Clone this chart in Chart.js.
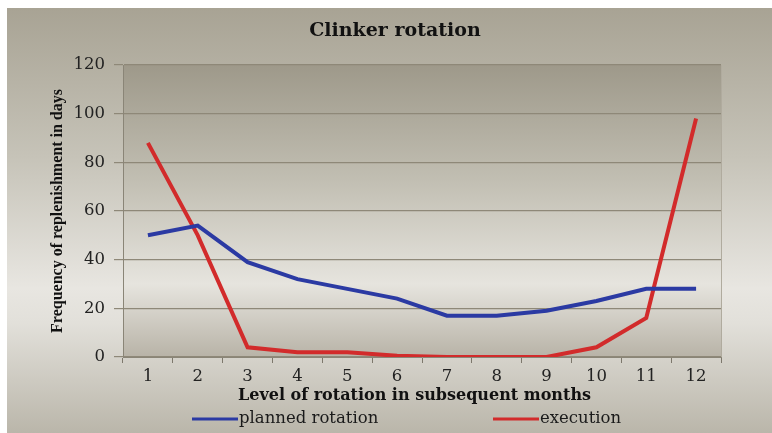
<!DOCTYPE html>
<html>
<head>
<meta charset="utf-8">
<script src="https://cdn.jsdelivr.net/npm/chart.js@4"></script>
<style>
  html, body { margin: 0; padding: 0; background: #fff; }
  #wrap { width: 772px; height: 433px; }
</style>
</head>
<body>
<div id="wrap"><canvas id="myChart"></canvas></div>
<script>
const months = ["1", "2", "3", "4", "5", "6", "7", "8", "9", "10", "11", "12"]
const planned = [50, 54, 39, 32, 28, 24, 17, 17, 19, 23, 28, 28]
const execution = [88, 50, 4, 2, 2, 0.5, 0, 0, 0, 4, 16, 98]

const chartTitle = "Clinker rotation"
const xTitle = "Level of rotation in subsequent months"
const yTitle = "Frequency of replenishment in days"

const wide = "'DejaVu Serif', serif"
const narrow = "'Liberation Serif', 'Times New Roman', serif"

// the titles sit a little off centre in the original
const shift = {}
shift[chartTitle] = 14.5
shift[xTitle] = -7.5

const nudge = {
    id: 'nudge',
    install(chart) {
        const ctx = chart.ctx
        const orig = ctx.fillText.bind(ctx)
        ctx.fillText = function (t, x, y, mw) {
            const dx = shift[t]
            if (dx) return orig(t, x + dx, y)
            return mw === undefined ? orig(t, x, y) : orig(t, x, y, mw)
        }
    }
}

// grey/white gradient frame like the office chart
const background = {
    id: 'background',
    beforeDraw(chart) {
        const ctx = chart.ctx
        const a = chart.chartArea
        ctx.save()
        ctx.fillStyle = '#ffffff'
        ctx.fillRect(0, 0, chart.width, chart.height)

        let g = ctx.createLinearGradient(0, 8, 0, chart.height)
        g.addColorStop(0, '#a8a394')
        g.addColorStop(0.35, '#c6c3b8')
        g.addColorStop(0.66, '#e8e6e1')
        g.addColorStop(0.74, '#e2e0da')
        g.addColorStop(1, '#bab6aa')
        ctx.fillStyle = g
        ctx.fillRect(7, 8, chart.width - 7, chart.height - 8)

        g = ctx.createLinearGradient(0, a.top, 0, a.bottom)
        g.addColorStop(0, '#9e998a')
        g.addColorStop(0.4, '#c2bfb3')
        g.addColorStop(0.75, '#e6e4de')
        g.addColorStop(1, '#b8b3a7')
        ctx.fillStyle = g
        ctx.fillRect(a.left, a.top, a.right - a.left, a.bottom - a.top)
        ctx.strokeStyle = '#b0ab9e'
        ctx.lineWidth = 1
        ctx.beginPath()
        ctx.moveTo(a.right + 0.5, a.top)
        ctx.lineTo(a.right + 0.5, a.bottom)
        ctx.stroke()
        ctx.restore()
    }
}

// legend drawn under the axis title
const bottomLegend = {
    id: 'bottomLegend',
    afterDraw(chart) {
        const ctx = chart.ctx
        const ds = chart.data.datasets
        const xs = [192, 493]
        const y = 419
        ctx.save()
        ctx.font = "16.5px " + wide
        ctx.fillStyle = '#1a1a1a'
        ctx.textBaseline = 'middle'
        ds.forEach((d, i) => {
            ctx.strokeStyle = d.borderColor
            ctx.lineWidth = 3
            ctx.beginPath()
            ctx.moveTo(xs[i], y)
            ctx.lineTo(xs[i] + 46, y)
            ctx.stroke()
            ctx.fillText(d.label, xs[i] + 47, y)
        })
        ctx.restore()
    }
}

const data = {
    labels: months,
    datasets: [{
        label: "planned rotation",
        data: planned,
        borderColor: '#2b3aa3',
        borderWidth: 4
    }, {
        label: "execution",
        data: execution,
        borderColor: '#d22b2b',
        borderWidth: 4
    }]
}

const config = {
    type: 'line',
    data: data,
    plugins: [nudge, background, bottomLegend],
    options: {
        responsive: true,
        maintainAspectRatio: false,
        animation: false,
        layout: { padding: { left: 40, right: 51, top: 8, bottom: 24 } },
        elements: { point: { radius: 0 }, line: { tension: 0 } },
        plugins: {
            legend: { display: false },
            tooltip: { enabled: false },
            title: {
                display: true,
                text: chartTitle,
                color: '#111',
                font: { family: wide, size: 19, weight: 'bold' },
                padding: { top: 11.6, bottom: 22.6 }
            }
        },
        scales: {
            x: {
                offset: true,
                grid: { offset: true, drawOnChartArea: false, tickLength: 6, color: '#7d786c' },
                border: { color: '#8a8577' },
                ticks: { color: '#222', padding: 4, font: { family: wide, size: 16.5 } },
                title: {
                    display: true,
                    text: xTitle,
                    color: '#111',
                    font: { family: wide, size: 16, weight: 'bold' },
                    padding: { top: 0, bottom: 4 }
                },
                afterFit(scale) { scale.height = 52 }
            },
            y: {
                min: 0,
                max: 120,
                ticks: { stepSize: 20, color: '#222', padding: 9, font: { family: wide, size: 16.5 } },
                grid: { color: '#8e8878', lineWidth: 1.2, tickLength: 9 },
                border: { color: '#8a8577' },
                title: {
                    display: true,
                    text: yTitle,
                    color: '#111',
                    font: { family: narrow, size: 16, weight: 'bold' },
                    padding: { top: 8 }
                },
                afterFit(scale) { scale.width = 83 }
            }
        }
    }
}

const myChart = new Chart(document.getElementById("myChart"), config)
</script>
</body>
</html>
